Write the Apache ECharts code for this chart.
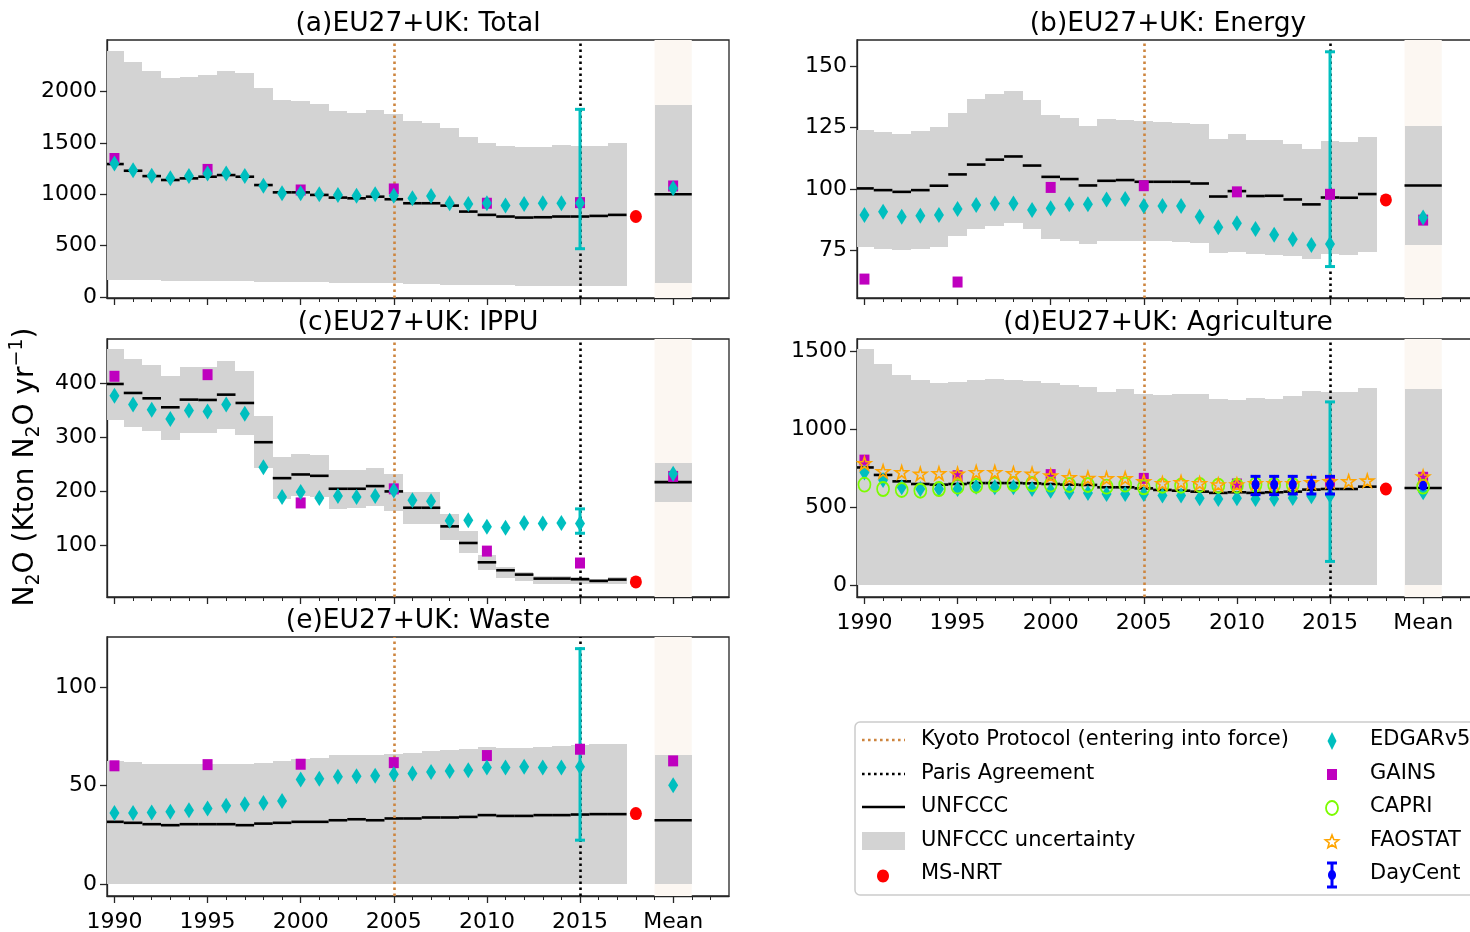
<!DOCTYPE html>
<html><head><meta charset="utf-8">
<script src="https://cdn.jsdelivr.net/npm/echarts@6/dist/echarts.min.js"></script>
<style>html,body{margin:0;padding:0;background:#fff}#c{width:1470px;height:932px}</style>
</head><body><div id="c"></div>
<script>
// ---------------- DATA ----------------
const years = [1990,1991,1992,1993,1994,1995,1996,1997,1998,1999,2000,2001,2002,2003,2004,2005,2006,2007,2008,2009,2010,2011,2012,2013,2014,2015,2016,2017];
const edgarYears = [1990,1991,1992,1993,1994,1995,1996,1997,1998,1999,2000,2001,2002,2003,2004,2005,2006,2007,2008,2009,2010,2011,2012,2013,2014,2015];
const gainsYears = [1990,1995,2000,2005,2010,2015];
const capriYears = [1990,1991,1992,1993,1994,1995,1996,1997,1998,1999,2000,2001,2002,2003,2004,2005,2006,2007,2008,2009,2010,2011,2012,2013];
const daycentYears = [2011,2012,2013,2014,2015];
const meanX = 2020, nrtX = 2018, errX = 2015;
const xTickValues = [1990,1995,2000,2005,2010,2015,2020];
const xTickLabels = ['1990','1995','2000','2005','2010','2015','Mean'];
const xMinorTicks = [1990,1991,1992,1993,1994,1995,1996,1997,1998,1999,2000,2001,2002,2003,2004,2005,2006,2007,2008,2009,2010,2011,2012,2013,2014,2015,2016,2017,2018,2019,2020,2021,2022];
const kyotoYear = 2005, parisYear = 2015;
const panelTitles = ['(a)EU27+UK: Total','(b)EU27+UK: Energy','(c)EU27+UK: IPPU','(d)EU27+UK: Agriculture','(e)EU27+UK: Waste'];

// (a) Total
const totalUnfccc = [1294,1229,1177,1139,1155,1171,1187,1171,1090,1019,1019,994,968,961,977,952,913,913,890,832,800,784,774,777,784,784,790,800];
const totalLow = [171,168,165,162,160,158,157,155,150,147,145,143,140,138,137,135,132,125,120,118,116,115,113,112,112,110,110,108];
const totalHigh = [2390,2284,2194,2132,2145,2155,2197,2178,2036,1913,1903,1881,1807,1790,1816,1784,1713,1694,1648,1558,1494,1468,1455,1461,1478,1468,1468,1494];
const totalEdgar = [1300,1235,1181,1155,1177,1203,1203,1177,1084,1010,1010,1000,994,987,1000,987,961,984,913,906,913,890,906,913,913,913];
const totalGains = [1348,1242,1042,1052,913,919];
const totalEdgarErr = [471,1826];
const totalNrt = 784;
const totalMean = [1000,140,1868,1058,1081]; // unfccc, low, high, edgar, gains

// (b) Energy
const energyUnfccc = [100.3,99.6,98.9,99.6,101.4,106.0,110.0,112.0,113.3,109.6,105.0,104.1,101.5,103.4,103.7,103.0,103.0,103.0,102.3,97.0,99.2,97.2,97.3,95.8,93.8,96.6,96.5,98.0];
const energyLow = [76.4,75.7,75.3,75.7,76.6,81.0,83.8,85.0,86.1,83.7,79.8,79.1,77.6,78.7,78.9,79.1,78.9,78.5,78.0,73.9,74.6,73.7,73.3,72.6,71.5,73.5,73.1,74.6];
const energyHigh = [124.2,123.2,122.6,123.5,125.3,131.1,136.5,138.8,140.1,136.1,130.0,129.1,125.7,128.4,128.2,127.7,127.3,126.9,126.6,120.3,122.3,120.1,119.9,118.5,116.5,119.6,119.2,121.2];
const energyEdgar = [89.5,90.8,88.8,89.2,89.5,91.9,93.5,94.2,94.2,91.5,92.2,93.9,93.9,95.8,96.0,93.1,93.1,93.1,88.8,84.5,86.1,83.8,81.4,79.6,77.3,77.7];
const energyGains = [63.4,62.2,100.7,101.4,98.9,97.9];
const energyEdgarErr = [68.5,155.9];
const energyNrt = 95.6;
const energyMean = [101.5,77.3,125.5,88.5,87.4];

// (c) IPPU
const ippuUnfccc = [398.8,382.2,372.3,355.7,369.9,369.3,379.1,363.7,291.2,224.8,231.6,229.1,205.2,205.2,210.1,200.3,170.1,170.1,135.7,105.0,69.3,54.6,46.6,39.2,39.2,38.0,34.9,37.4];
const ippuLow = [332,319,311,296,308,308,316,304,244,187,191,190,168,170,174,165,141,141,111,87,56,41,35,30,30,30,29,30];
const ippuHigh = [463,445,434,414,431,431,441,422,340,264,270,267,239,239,244,233,199,199,159,128,82,61,52,44,44,42,39,42];
const ippuEdgar = [377,361,351,334,350,348,361,344,245,190,199,188,192,190,192,202,184,182,146,147,135,133,142,141,142,141];
const ippuGains = [413,416,179,205,90,68];
const ippuEdgarErr = [123,168];
const ippuNrt = 33;
const ippuMean = [217.5,181,253,233,228];

// (d) Agriculture
const agriUnfccc = [755,707,666,649,645,649,655,655,655,653,649,645,643,628,628,621,611,606,600,592,596,592,596,600,613,617,617,632];
const agriLow = [0,0,0,0,0,0,0,0,0,0,0,0,0,0,0,0,0,0,0,0,0,0,0,0,0,0,0,0];
const agriHigh = [1511,1415,1345,1313,1298,1304,1313,1319,1313,1309,1298,1281,1270,1239,1260,1228,1219,1224,1224,1196,1187,1202,1196,1213,1245,1239,1239,1262];
const agriEdgar = [723,675,628,617,617,617,632,628,628,617,606,596,592,585,585,585,575,575,558,553,558,553,553,560,570,575];
const agriGains = [802,702,709,685,649,660];
const agriCapri = [645,617,611,606,617,632,638,645,649,649,645,643,643,632,645,628,638,638,643,638,638,645,643,643];
const agriFaostat = [781,730,724,713,717,713,724,724,717,713,702,692,687,685,685,666,653,660,653,645,645,653,653,653,660,666,666,670];
const agriDaycent = [645,645,645,645,645];
const agriDaycentLow = [581,581,585,585,585];
const agriDaycentHigh = [698,698,698,692,698];
const agriEdgarErr = [153,1175];
const agriNrt = 617;
const agriMean = [623,0,1256,596,692];
const agriMeanExtra = [632,696,638]; // capri, faostat, daycent

// (e) Waste
const wasteUnfccc = [31.6,31.1,30.4,29.9,30.4,30.4,30.4,29.9,30.7,31.1,31.6,31.6,32.4,32.9,32.4,33.3,33.3,33.8,33.8,34.1,35.0,34.6,34.6,35.0,35.0,35.3,35.5,35.5];
const wasteLow = [0,0,0,0,0,0,0,0,0,0,0,0,0,0,0,0,0,0,0,0,0,0,0,0,0,0,0,0];
const wasteHigh = [62.5,62.0,61.1,60.8,60.8,60.8,60.8,60.8,61.6,62.3,63.7,64.2,65.4,65.7,65.4,66.2,66.7,67.4,67.9,68.4,69.6,69.2,69.2,69.6,70.1,70.8,70.9,70.9];
const wasteEdgar = [36.1,36.1,36.3,36.7,37.5,38.3,39.7,40.5,41.2,42.2,53.0,53.5,54.4,54.7,54.9,55.7,56.1,56.9,57.4,57.8,59.1,59.1,59.5,59.1,59.1,59.5];
const wasteGains = [60.0,60.6,60.8,61.6,65.2,68.4];
const wasteEdgarErr = [22.3,119.4];
const wasteNrt = 35.8;
const wasteMean = [32.4,0,65.7,50.2,62.5];

// y axes
const yRanges = [[-8,2500],[55.7,160.7],[5.2,481.9],[-75,1578],[-6,125.3]];
const yTicks = [[0,500,1000,1500,2000],[75,100,125,150],[100,200,300,400],[0,500,1000,1500],[0,50,100]];

// ---------------- LAYOUT / STYLE ----------------
const grids = [
  {left:107, top:40, width:622, height:258},
  {left:857, top:40, width:622, height:258},
  {left:107, top:339, width:622, height:258},
  {left:857, top:339, width:622, height:258},
  {left:107, top:637, width:622, height:259}
];
const FONT = 'DejaVu Sans';
const C_EDGAR = '#00bfbf', C_GAINS = '#bf00bf', C_NRT = '#ff0000', C_CAPRI = '#7cfc00', C_FAO = '#ffa500', C_DAY = '#0000ff';
const C_KYOTO = '#cd853f', C_GRAY = '#d3d3d3', C_BAND = '#fcf7f2';
const DOT = [2.6, 3.4];
const STAR = 'path://M50,2 L61,36 L97,36 L68,57 L79,92 L50,71 L21,92 L32,57 L3,36 L39,36 Z';

const panels = [
  {u:totalUnfccc, lo:totalLow, hi:totalHigh, ed:totalEdgar, ga:totalGains, err:totalEdgarErr, nrt:totalNrt, mean:totalMean},
  {u:energyUnfccc, lo:energyLow, hi:energyHigh, ed:energyEdgar, ga:energyGains, err:energyEdgarErr, nrt:energyNrt, mean:energyMean},
  {u:ippuUnfccc, lo:ippuLow, hi:ippuHigh, ed:ippuEdgar, ga:ippuGains, err:ippuEdgarErr, nrt:ippuNrt, mean:ippuMean},
  {u:agriUnfccc, lo:agriLow, hi:agriHigh, ed:agriEdgar, ga:agriGains, err:agriEdgarErr, nrt:agriNrt, mean:agriMean, agri:true},
  {u:wasteUnfccc, lo:wasteLow, hi:wasteHigh, ed:wasteEdgar, ga:wasteGains, err:wasteEdgarErr, nrt:wasteNrt, mean:wasteMean}
];

function clipX(cs, x){ return Math.min(Math.max(x, cs.x), cs.x + cs.width); }
function rectItem(params, api){
  const x = api.value(0), lo = api.value(1), hi = api.value(2), hw = api.value(3);
  const p0 = api.coord([x - hw, hi]), p1 = api.coord([x + hw, lo]);
  const cs = params.coordSys;
  const x0 = clipX(cs, Math.round(p0[0])), x1 = clipX(cs, Math.round(p1[0]));
  const y0 = Math.round(p0[1]), y1 = Math.min(Math.round(p1[1]), cs.y + cs.height);
  return {type:'rect', shape:{x:x0, y:y0, width:x1-x0, height:y1-y0}, style:{fill:C_GRAY}};
}
function segItem(params, api){
  const x = api.value(0), v = api.value(1), hw = api.value(2);
  const p0 = api.coord([x - hw, v]), p1 = api.coord([x + hw, v]);
  const cs = params.coordSys;
  return {type:'line', shape:{x1:clipX(cs,p0[0]), y1:p0[1], x2:clipX(cs,p1[0]), y2:p1[1]}, style:{stroke:'#000', lineWidth:2.6}};
}
function errItemFactory(color, lw, cap){
  return function(params, api){
    const x = api.value(0);
    const a = api.coord([x, api.value(1)]), b = api.coord([x, api.value(2)]);
    return {type:'group', children:[
      {type:'line', shape:{x1:a[0], y1:a[1], x2:b[0], y2:b[1]}, style:{stroke:color, lineWidth:lw}},
      {type:'line', shape:{x1:a[0]-cap, y1:a[1], x2:a[0]+cap, y2:a[1]}, style:{stroke:color, lineWidth:lw}},
      {type:'line', shape:{x1:b[0]-cap, y1:b[1], x2:b[0]+cap, y2:b[1]}, style:{stroke:color, lineWidth:lw}}
    ]};
  };
}

const option = {
  animation:false,
  backgroundColor:'#fff',
  textStyle:{fontFamily:FONT},
  grid: grids.map(g => Object.assign({show:true, borderColor:'#262626', borderWidth:1.3, backgroundColor:'rgba(0,0,0,0)', containLabel:false, outerBoundsMode:'none'}, g)),
  xAxis: [], yAxis: [], series: [], graphic: []
};

panels.forEach((p, i) => {
  const showLab = (i >= 3);
  option.xAxis.push({
    type:'value', gridIndex:i, min:1989.6, max:2023, position:'bottom',
    axisLine:{show:true, onZero:false, lineStyle:{color:'#262626', width:1.3}},
    axisTick:{show:true, length:7, customValues:xTickValues, lineStyle:{color:'#262626', width:1.3}},
    axisLabel:{show:showLab, customValues:xTickValues, margin:15, fontSize:22, color:'#000', fontFamily:FONT,
      formatter:(v)=>{ const k = xTickValues.indexOf(Math.round(v)); return k>=0 ? xTickLabels[k] : ''; }},
    splitLine:{show:false}
  });
  option.xAxis.push({
    type:'value', gridIndex:i, min:1989.6, max:2023, position:'bottom',
    axisLine:{show:false, onZero:false},
    axisTick:{show:true, length:4, customValues:xMinorTicks, lineStyle:{color:'#262626', width:1}},
    axisLabel:{show:false}, splitLine:{show:false}
  });
  option.yAxis.push({
    type:'value', gridIndex:i, min:yRanges[i][0], max:yRanges[i][1],
    axisLine:{show:true, onZero:false, lineStyle:{color:'#262626', width:1.3}},
    axisTick:{show:true, length:7, customValues:yTicks[i], lineStyle:{color:'#262626', width:1.3}},
    axisLabel:{show:true, customValues:yTicks[i], margin:10, fontSize:22, color:'#000', fontFamily:FONT,
      formatter:(v)=>String(v)},
    splitLine:{show:false}
  });
  const xi = 2*i, yi = i;
  // mean band
  option.series.push({type:'line', xAxisIndex:xi, yAxisIndex:yi, data:[], z:1, silent:true,
    markArea:{silent:true, itemStyle:{color:C_BAND}, data:[[{xAxis:meanX-1},{xAxis:meanX+1}]]}});
  // uncertainty
  const grayData = years.map((y,k)=>[y, p.lo[k], p.hi[k], 0.5]);
  grayData.push([meanX, p.mean[1], p.mean[2], 1.0]);
  option.series.push({type:'custom', xAxisIndex:xi, yAxisIndex:yi, z:2, silent:true, renderItem:rectItem, data:grayData});
  // UNFCCC
  const uData = years.map((y,k)=>[y, p.u[k], 0.5]);
  uData.push([meanX, p.mean[0], 1.0]);
  option.series.push({type:'custom', xAxisIndex:xi, yAxisIndex:yi, z:3, silent:true, renderItem:segItem, data:uData});
  // Kyoto / Paris
  option.series.push({type:'line', xAxisIndex:xi, yAxisIndex:yi, data:[], z:4, silent:true,
    markLine:{silent:true, symbol:['none','none'], label:{show:false},
      data:[{xAxis:kyotoYear, lineStyle:{color:C_KYOTO, type:DOT, width:2.6, opacity:1}},
            {xAxis:parisYear, lineStyle:{color:'#000', type:DOT, width:2.6, opacity:1}}]}});
  // EDGAR error bar
  option.series.push({type:'custom', xAxisIndex:xi, yAxisIndex:yi, z:5, silent:true,
    renderItem:errItemFactory(C_EDGAR, 3, 5), data:[[errX, p.err[0], p.err[1]]]});
  // GAINS
  const gData = gainsYears.map((y,k)=>[y, p.ga[k]]); gData.push([meanX, p.mean[4]]);
  option.series.push({type:'scatter', xAxisIndex:xi, yAxisIndex:yi, z:6, silent:true, symbol:'rect', symbolSize:[10,11],
    itemStyle:{color:C_GAINS, opacity:1}, data:gData});
  // EDGAR
  const eData = edgarYears.map((y,k)=>[y, p.ed[k]]); eData.push([meanX, p.mean[3]]);
  option.series.push({type:'scatter', xAxisIndex:xi, yAxisIndex:yi, z:7, silent:true, symbol:'diamond', symbolSize:[10,16],
    itemStyle:{color:C_EDGAR, opacity:1}, data:eData});
  if (p.agri){
    const cData = capriYears.map((y,k)=>[y, agriCapri[k]]); cData.push([meanX, agriMeanExtra[0]]);
    option.series.push({type:'scatter', xAxisIndex:xi, yAxisIndex:yi, z:8, silent:true, symbol:'circle', symbolSize:[12,14],
      itemStyle:{color:'rgba(0,0,0,0)', borderColor:C_CAPRI, borderWidth:1.8, opacity:1}, data:cData});
    const fData = years.map((y,k)=>[y, agriFaostat[k]]); fData.push([meanX, agriMeanExtra[1]]);
    option.series.push({type:'scatter', xAxisIndex:xi, yAxisIndex:yi, z:9, silent:true, symbol:STAR, symbolSize:[13,13],
      itemStyle:{color:'rgba(0,0,0,0)', borderColor:C_FAO, borderWidth:1.6, opacity:1}, data:fData});
    option.series.push({type:'custom', xAxisIndex:xi, yAxisIndex:yi, z:10, silent:true,
      renderItem:errItemFactory(C_DAY, 3, 5), data:daycentYears.map((y,k)=>[y, agriDaycentLow[k], agriDaycentHigh[k]])});
    const dData = daycentYears.map((y,k)=>[y, agriDaycent[k]]); dData.push([meanX, agriMeanExtra[2]]);
    option.series.push({type:'scatter', xAxisIndex:xi, yAxisIndex:yi, z:11, silent:true, symbol:'circle', symbolSize:[8,10],
      itemStyle:{color:C_DAY, opacity:1}, data:dData});
  }
  // MS-NRT
  option.series.push({type:'scatter', xAxisIndex:xi, yAxisIndex:yi, z:8, silent:true, symbol:'circle', symbolSize:[12,13],
    itemStyle:{color:C_NRT, opacity:1}, data:[[nrtX, p.nrt]]});
  // title
  const g = grids[i];
  option.graphic.push({type:'text', x:g.left + g.width/2, y:g.top - 16, silent:true,
    style:{text:panelTitles[i], font:'26.5px "DejaVu Sans"', fill:'#000', textAlign:'center', textVerticalAlign:'middle'}});
});

// y-axis label
option.graphic.push({type:'text', x:26, y:467, rotation:Math.PI/2, silent:true,
  style:{text:'{n|N}{s|2}{n|O (Kton N}{s|2}{n|O yr}{p|−1}{n|)}', textAlign:'center', textVerticalAlign:'middle', fill:'#000',
    rich:{n:{fontSize:28, fontFamily:FONT, lineHeight:36, verticalAlign:'middle'},
          s:{fontSize:19, fontFamily:FONT, lineHeight:36, verticalAlign:'bottom'},
          p:{fontSize:19, fontFamily:FONT, lineHeight:36, verticalAlign:'top'}}}});

// legend
const lgRows = [740, 774, 807, 841, 874];
const lgFont = '21px "DejaVu Sans"';
const L = [];
L.push({type:'rect', shape:{x:855, y:722, width:640, height:173, r:5}, style:{fill:'#fff', stroke:'#cccccc', lineWidth:1.5}});
L.push({type:'line', shape:{x1:862, y1:lgRows[0], x2:905, y2:lgRows[0]}, style:{stroke:C_KYOTO, lineWidth:2.6, lineDash:DOT}});
L.push({type:'line', shape:{x1:862, y1:lgRows[1], x2:905, y2:lgRows[1]}, style:{stroke:'#000', lineWidth:2.6, lineDash:DOT}});
L.push({type:'line', shape:{x1:862, y1:lgRows[2], x2:905, y2:lgRows[2]}, style:{stroke:'#000', lineWidth:2.6}});
L.push({type:'rect', shape:{x:862, y:lgRows[3]-9, width:43, height:18}, style:{fill:C_GRAY}});
L.push({type:'ellipse', shape:{cx:883, cy:lgRows[4]+2, rx:6, ry:6.5}, style:{fill:C_NRT}});
const lgText1 = ['Kyoto Protocol (entering into force)','Paris Agreement','UNFCCC','UNFCCC uncertainty','MS-NRT'];
const lgText2 = ['EDGARv5','GAINS','CAPRI','FAOSTAT','DayCent'];
lgText1.forEach((t,k)=>L.push({type:'text', x:921, y:lgRows[k], style:{text:t, font:lgFont, fill:'#000', textVerticalAlign:'middle'}}));
lgText2.forEach((t,k)=>L.push({type:'text', x:1370, y:lgRows[k], style:{text:t, font:lgFont, fill:'#000', textVerticalAlign:'middle'}}));
const mx = 1332;
L.push({type:'polygon', shape:{points:[[mx,lgRows[0]-8],[mx+4.5,lgRows[0]+1],[mx,lgRows[0]+10],[mx-4.5,lgRows[0]+1]]}, style:{fill:C_EDGAR}});
L.push({type:'rect', shape:{x:mx-5, y:lgRows[1]-5, width:10, height:11}, style:{fill:C_GAINS}});
L.push({type:'ellipse', shape:{cx:mx, cy:lgRows[2]+1, rx:6, ry:7}, style:{fill:'none', stroke:C_CAPRI, lineWidth:1.8}});
(function(){ const pts=[]; const cx=mx, cy=lgRows[3]+1; for(let k=0;k<10;k++){ const r = k%2===0?7:3; const a = -Math.PI/2 + k*Math.PI/5; pts.push([cx + r*Math.cos(a), cy + r*Math.sin(a)]); }
  L.push({type:'polygon', shape:{points:pts}, style:{fill:'none', stroke:C_FAO, lineWidth:1.6}}); })();
L.push({type:'line', shape:{x1:mx, y1:lgRows[4]-11, x2:mx, y2:lgRows[4]+13}, style:{stroke:C_DAY, lineWidth:3}});
L.push({type:'line', shape:{x1:mx-5, y1:lgRows[4]-11, x2:mx+5, y2:lgRows[4]-11}, style:{stroke:C_DAY, lineWidth:3}});
L.push({type:'line', shape:{x1:mx-5, y1:lgRows[4]+13, x2:mx+5, y2:lgRows[4]+13}, style:{stroke:C_DAY, lineWidth:3}});
L.push({type:'ellipse', shape:{cx:mx, cy:lgRows[4]+1, rx:4, ry:5}, style:{fill:C_DAY}});
option.graphic.push({type:'group', silent:true, children:L});

const chart = echarts.init(document.getElementById('c'), null, {renderer:'canvas', width:1470, height:932});
chart.setOption(option);
</script>
</body></html>
